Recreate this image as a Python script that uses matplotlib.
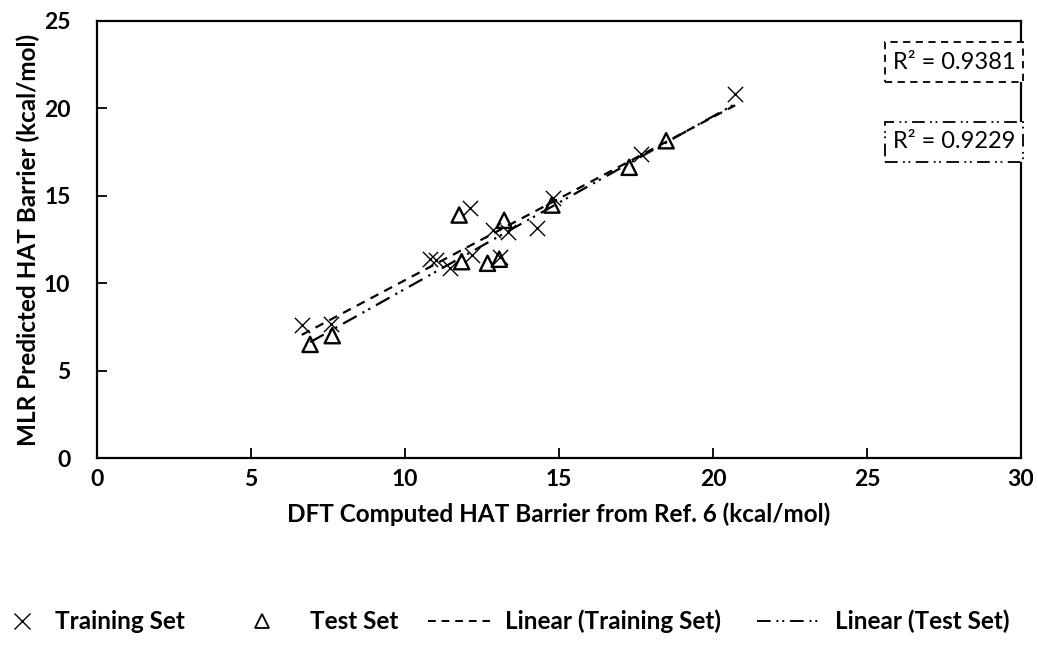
import numpy as np
import matplotlib
matplotlib.use("Agg")
import matplotlib.pyplot as plt
from matplotlib.lines import Line2D
from matplotlib.patches import Rectangle

plt.rcParams['font.family'] = ['Lato', 'DejaVu Sans']

# Training set (x marks)
train_x = [6.65, 7.59, 10.8, 11.0, 11.46, 12.11, 12.17, 12.87, 13.09, 13.36, 14.28, 14.82, 17.67, 20.72]
train_y = [7.60, 7.67, 11.40, 11.30, 10.85, 14.28, 11.61, 13.04, 11.52, 12.95, 13.14, 14.86, 17.39, 20.82]
# Test set (triangles)
test_x = [6.92, 7.64, 11.76, 11.84, 12.68, 13.06, 13.22, 14.77, 17.28, 18.48]
test_y = [6.50, 7.00, 13.90, 11.23, 11.14, 11.37, 13.60, 14.47, 16.63, 18.15]

r2_train = "R² = 0.9381"
r2_test = "R² = 0.9229"
x_ticks = [0, 5, 10, 15, 20, 25, 30]
y_ticks = [0, 5, 10, 15, 20, 25]
legend_labels = ["Training Set", "Test Set", "Linear (Training Set)", "Linear (Test Set)"]

DASH = (0, (4, 3))
DASHDOT = (0, (7, 3, 1, 2, 1, 3))

fig = plt.figure(figsize=(10.38, 6.46), dpi=100)
ax = fig.add_axes([0.0934, 0.291, 0.8902, 0.6765])

ax.scatter(train_x, train_y, marker='x', s=120, c='black', linewidths=1.0, zorder=3)
ax.scatter(test_x, test_y, marker='^', s=120, facecolors='none', edgecolors='black',
           linewidths=1.7, zorder=3)

# linear trend lines
p_tr = np.polyfit(train_x, train_y, 1)
xs_tr = np.array([min(train_x), max(train_x)])
ax.plot(xs_tr, np.polyval(p_tr, xs_tr), color='black', lw=1.6, ls=DASH, zorder=2)
p_te = np.polyfit(test_x, test_y, 1)
xs_te = np.array([min(test_x), max(train_x)])
ax.plot(xs_te, np.polyval(p_te, xs_te), color='black', lw=1.6, ls=DASHDOT, zorder=2)

ax.set_xlim(0, 30)
ax.set_ylim(0, 25)
ax.set_xticks(x_ticks)
ax.set_yticks(y_ticks)
ax.tick_params(direction='in', length=7, width=1.3, labelsize=16.5)
ax.tick_params(axis='x', pad=8)
ax.tick_params(axis='y', pad=19)
for lab in ax.get_xticklabels() + ax.get_yticklabels():
    lab.set_fontweight('bold')
for sp in ax.spines.values():
    sp.set_linewidth(1.6)

ax.set_xlabel("DFT Computed HAT Barrier from Ref. 6 (kcal/mol)", fontsize=17.5,
              fontweight='bold', labelpad=9)
ax.set_ylabel("MLR Predicted HAT Barrier (kcal/mol)", fontsize=17.5,
              fontweight='bold', labelpad=3)

# R² label boxes (figure coordinates)
for (y0, txt, ls) in [(0.873, r2_train, DASH), (0.7492, r2_test, DASHDOT)]:
    fig.add_artist(Rectangle((0.8526, y0), 0.1329, 0.0619, transform=fig.transFigure,
                             fill=True, fc='white', ec='black', lw=1.3, ls=ls))
    fig.text(0.919, y0 + 0.031, txt, ha='center', va='center', fontsize=17)

# manual legend along the bottom
ly = 0.038
fig.add_artist(Line2D([0.0212], [ly], marker='x', color='black', ls='none',
                      markersize=11, mew=1.0, transform=fig.transFigure))
fig.text(0.053, ly, legend_labels[0], ha='left', va='center', fontsize=17.5, fontweight='bold')
fig.add_artist(Line2D([0.2524], [ly], marker='^', color='black', mfc='none', ls='none',
                      markersize=10, mew=1.3, transform=fig.transFigure))
fig.text(0.2987, ly, legend_labels[1], ha='left', va='center', fontsize=17.5, fontweight='bold')
fig.add_artist(Line2D([0.4123, 0.4721], [ly, ly], color='black', lw=1.4, ls=DASH,
                      transform=fig.transFigure))
fig.text(0.4865, ly, legend_labels[2], ha='left', va='center', fontsize=17.5, fontweight='bold')
fig.add_artist(Line2D([0.7293, 0.790], [ly, ly], color='black', lw=1.4, ls=DASHDOT,
                      transform=fig.transFigure))
fig.text(0.8044, ly, legend_labels[3], ha='left', va='center', fontsize=17.5, fontweight='bold')

fig.savefig("out.png", dpi=100)
